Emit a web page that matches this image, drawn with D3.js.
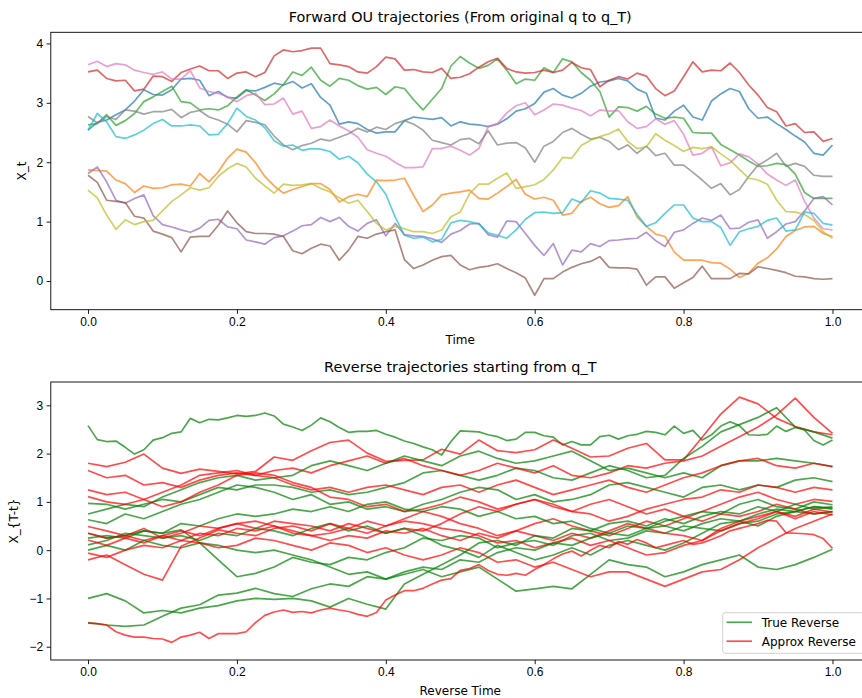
<!DOCTYPE html>
<html>
<head>
<meta charset="utf-8">
<script src="https://cdn.jsdelivr.net/npm/d3@7"></script>
<style>
  body { margin: 0; background: #fff; }
  svg { display: block; font-family: "DejaVu Sans", sans-serif; }
  .tick text { font-size: 12px; fill: #000; }
  .tick line { stroke: #000; stroke-width: 0.9; }
  .title { font-size: 14.4px; fill: #000; }
  .label { font-size: 12px; fill: #000; }
</style>
</head>
<body>
<svg id="chart"></svg>
<script>
const width = 862;
const height = 698;

// time grids the trajectories were read at
const fineSteps = [0, 0.0125, 0.025, 0.0375, 0.05, 0.0625, 0.075, 0.0875, 0.1, 0.1125, 0.125,
  0.1375, 0.15, 0.1625, 0.175, 0.1875, 0.2, 0.2125, 0.225, 0.2375, 0.25,
  0.2625, 0.275, 0.2875, 0.3, 0.3125, 0.325, 0.3375, 0.35, 0.3625, 0.375,
  0.3875, 0.4, 0.4125, 0.425, 0.4375, 0.45, 0.4625, 0.475, 0.4875, 0.5,
  0.5125, 0.525, 0.5375, 0.55, 0.5625, 0.575, 0.5875, 0.6, 0.6125, 0.625,
  0.6375, 0.65, 0.6625, 0.675, 0.6875, 0.7, 0.7125, 0.725, 0.7375, 0.75,
  0.7625, 0.775, 0.7875, 0.8, 0.8125, 0.825, 0.8375, 0.85, 0.8625, 0.875,
  0.8875, 0.9, 0.9125, 0.925, 0.9375, 0.95, 0.9625, 0.975, 0.9875, 1.0];
const coarseSteps = [0, 0.025, 0.05, 0.075, 0.1, 0.125, 0.15, 0.175, 0.2, 0.225, 0.25,
  0.275, 0.3, 0.325, 0.35, 0.375, 0.4, 0.425, 0.45, 0.475, 0.5,
  0.525, 0.55, 0.575, 0.6, 0.625, 0.65, 0.675, 0.7, 0.725, 0.75,
  0.775, 0.8, 0.825, 0.85, 0.875, 0.9, 0.925, 0.95, 0.975, 1.0];

const xTicks = [0, 0.2, 0.4, 0.6, 0.8, 1.0];
const forwardTicks = [0, 1, 2, 3, 4];
const reverseTicks = [-2, -1, 0, 1, 2, 3];

// forward OU paths (tab10 order), on fineSteps
const fwdBlue = [2.54, 2.67, 2.71, 2.80, 2.88, 3.03, 3.22, 3.14, 3.13, 3.22, 3.40, 3.41, 3.38, 3.12, 3.19, 3.09, 3.08, 3.21, 3.20, 3.26, 3.33,
  3.30, 3.36, 3.25, 3.32, 3.09, 2.96, 2.64, 2.68, 2.65, 2.55, 2.49, 2.51, 2.51, 2.70, 2.76, 2.74, 2.72, 2.75, 2.61, 2.68,
  2.64, 2.63, 2.60, 2.64, 2.73, 2.86, 2.90, 2.99, 3.18, 3.24, 3.13, 3.08, 3.16, 3.28, 3.35, 3.37, 3.41, 3.37, 3.23, 3.16,
  2.74, 2.71, 2.86, 2.96, 2.76, 2.71, 3.03, 3.15, 3.24, 3.19, 2.90, 2.74, 2.76, 2.65, 2.55, 2.44, 2.34, 2.15, 2.12, 2.29];
const fwdOrange = [1.87, 1.86, 1.85, 1.70, 1.64, 1.49, 1.60, 1.56, 1.57, 1.62, 1.63, 1.60, 1.81, 1.67, 1.84, 2.07, 2.22, 2.17, 1.99, 1.76, 1.60,
  1.48, 1.54, 1.59, 1.64, 1.64, 1.54, 1.33, 1.42, 1.46, 1.42, 1.70, 1.69, 1.70, 1.73, 1.44, 1.17, 1.28, 1.45, 1.48, 1.50,
  1.53, 1.39, 1.38, 1.48, 1.59, 1.71, 1.46, 1.38, 1.41, 1.36, 1.11, 1.14, 1.34, 1.41, 1.30, 1.24, 1.27, 1.42, 1.08, 0.92,
  0.79, 0.75, 0.49, 0.35, 0.35, 0.35, 0.31, 0.30, 0.20, 0.06, 0.13, 0.30, 0.39, 0.54, 0.75, 0.85, 0.91, 0.92, 0.80, 0.75];
const fwdGreen = [2.63, 2.65, 2.80, 2.62, 2.70, 2.82, 3.02, 3.10, 3.19, 3.28, 3.02, 3.00, 2.88, 2.90, 2.88, 2.95, 3.10, 3.22, 3.13, 3.04, 3.15,
  3.31, 3.52, 3.46, 3.60, 3.38, 3.28, 3.41, 3.38, 3.29, 3.23, 3.26, 3.14, 3.27, 3.24, 3.05, 2.88, 3.06, 3.24, 3.62, 3.78,
  3.67, 3.58, 3.63, 3.74, 3.55, 3.32, 3.40, 3.38, 3.59, 3.51, 3.74, 3.69, 3.51, 3.38, 3.19, 2.76, 2.93, 2.92, 2.86, 2.94,
  2.81, 2.74, 2.76, 2.74, 2.50, 2.49, 2.49, 2.30, 2.21, 2.12, 2.02, 1.93, 1.94, 1.98, 1.96, 1.80, 1.49, 1.39, 1.39, 1.39];
const fwdRed = [3.52, 3.55, 3.41, 3.37, 3.38, 3.20, 3.23, 3.45, 3.44, 3.36, 3.51, 3.57, 3.62, 3.54, 3.54, 3.41, 3.50, 3.52, 3.44, 3.51, 3.79,
  3.89, 3.86, 3.88, 3.92, 3.92, 3.66, 3.64, 3.61, 3.52, 3.50, 3.61, 3.77, 3.74, 3.55, 3.56, 3.52, 3.51, 3.58, 3.41, 3.43,
  3.49, 3.60, 3.69, 3.75, 3.58, 3.52, 3.50, 3.51, 3.55, 3.51, 3.55, 3.68, 3.59, 3.56, 3.27, 3.38, 3.44, 3.40, 3.50, 3.45,
  3.24, 3.12, 3.20, 3.44, 3.69, 3.52, 3.55, 3.54, 3.67, 3.51, 3.30, 3.13, 2.92, 2.85, 2.61, 2.65, 2.50, 2.51, 2.35, 2.40];
const fwdPurple = [1.81, 1.92, 1.67, 1.36, 1.31, 1.39, 1.45, 1.10, 0.95, 0.91, 0.86, 0.82, 0.89, 1.02, 1.04, 0.91, 0.88, 0.69, 0.66, 0.62, 0.73,
  0.76, 0.84, 0.93, 0.95, 1.07, 1.00, 1.07, 0.92, 0.84, 0.97, 1.03, 0.76, 0.97, 0.78, 0.76, 0.75, 0.71, 0.65, 0.79, 0.85,
  0.96, 0.97, 0.78, 0.74, 1.01, 1.00, 0.80, 0.60, 0.43, 0.63, 0.27, 0.52, 0.49, 0.63, 0.58, 0.68, 0.69, 0.71, 0.72, 0.82,
  0.68, 0.58, 0.82, 0.86, 0.97, 1.06, 1.02, 1.11, 0.88, 0.89, 0.99, 1.03, 0.72, 0.83, 0.96, 1.00, 1.18, 1.39, 1.42, 1.28];
const fwdBrown = [1.78, 1.66, 1.36, 1.34, 1.32, 1.09, 1.06, 0.84, 0.79, 0.73, 0.49, 0.74, 0.75, 0.75, 0.94, 1.18, 0.98, 0.83, 0.80, 0.80, 0.79,
  0.75, 0.51, 0.46, 0.55, 0.62, 0.59, 0.35, 0.52, 0.75, 0.72, 0.79, 0.83, 0.86, 0.36, 0.21, 0.27, 0.35, 0.41, 0.43, 0.27,
  0.19, 0.23, 0.25, 0.29, 0.21, 0.14, 0.05, -0.24, 0.04, 0.04, 0.15, 0.23, 0.29, 0.33, 0.41, 0.23, 0.22, 0.22, 0.20, -0.07,
  0.07, 0.07, -0.12, -0.03, 0.06, 0.25, 0.04, 0.04, 0.04, 0.13, 0.12, 0.24, 0.21, 0.18, 0.14, 0.08, 0.07, 0.04, 0.03, 0.04];
const fwdPink = [3.64, 3.70, 3.61, 3.66, 3.64, 3.55, 3.51, 3.48, 3.52, 3.40, 3.40, 3.54, 3.25, 3.19, 3.16, 3.10, 3.02, 3.12, 3.16, 2.97, 2.98,
  3.08, 2.81, 2.86, 2.57, 2.60, 2.71, 2.61, 2.53, 2.42, 2.21, 2.15, 2.10, 2.00, 1.91, 1.91, 1.92, 2.23, 2.23, 2.27, 2.20,
  2.12, 2.23, 2.60, 2.65, 2.83, 2.95, 3.00, 2.80, 2.88, 2.98, 2.96, 2.91, 2.87, 2.78, 2.88, 2.86, 2.87, 2.68, 2.57, 2.60,
  2.73, 2.64, 2.70, 2.47, 2.12, 2.15, 2.26, 1.94, 1.99, 2.14, 2.09, 1.97, 1.80, 1.70, 1.61, 1.70, 1.34, 1.06, 0.88, 0.86];
const fwdGray = [2.77, 2.66, 2.77, 2.72, 2.88, 2.86, 2.81, 2.85, 2.85, 2.89, 2.75, 2.84, 2.87, 2.76, 2.71, 2.64, 2.51, 2.70, 2.67, 2.63, 2.44,
  2.29, 2.21, 2.28, 2.32, 2.39, 2.36, 2.42, 2.48, 2.57, 2.51, 2.59, 2.55, 2.65, 2.70, 2.64, 2.54, 2.37, 2.33, 2.29, 2.38,
  2.40, 2.31, 2.53, 2.29, 2.32, 2.33, 2.24, 2.00, 2.27, 2.35, 2.50, 2.57, 2.47, 2.39, 2.42, 2.35, 2.21, 2.29, 2.15, 2.27,
  2.11, 2.15, 1.95, 1.95, 1.83, 1.70, 1.56, 1.64, 1.45, 1.54, 1.76, 1.95, 2.04, 2.15, 1.93, 1.98, 1.93, 1.78, 1.76, 1.76];
const fwdOlive = [1.53, 1.40, 1.11, 0.87, 1.03, 0.95, 1.00, 1.02, 1.18, 1.34, 1.45, 1.57, 1.53, 1.57, 1.76, 1.89, 1.98, 1.92, 1.73, 1.60, 1.48,
  1.63, 1.61, 1.62, 1.64, 1.56, 1.50, 1.40, 1.31, 1.36, 1.17, 0.97, 0.86, 0.92, 0.88, 0.83, 0.83, 0.80, 0.86, 1.08, 1.16,
  1.47, 1.63, 1.63, 1.73, 1.82, 1.56, 1.59, 1.62, 1.71, 1.87, 2.08, 2.07, 2.28, 2.37, 2.43, 2.48, 2.56, 2.35, 2.23, 2.26,
  2.48, 2.37, 2.28, 2.18, 2.25, 2.23, 2.26, 2.14, 2.03, 1.88, 1.73, 1.70, 1.63, 1.36, 1.17, 1.16, 1.12, 1.02, 0.83, 0.72];
const fwdCyan = [2.54, 2.82, 2.68, 2.43, 2.40, 2.46, 2.54, 2.65, 2.72, 2.61, 2.61, 2.63, 2.61, 2.46, 2.47, 2.65, 2.91, 2.77, 2.71, 2.58, 2.36,
  2.27, 2.29, 2.20, 2.23, 2.22, 2.18, 2.05, 2.10, 1.99, 1.80, 1.67, 1.46, 1.08, 0.77, 0.72, 0.74, 0.66, 0.70, 0.98, 1.02,
  1.00, 0.96, 0.81, 0.77, 0.72, 0.86, 1.04, 1.15, 1.16, 1.14, 1.15, 1.38, 1.32, 1.52, 1.48, 1.39, 1.38, 1.36, 1.12, 0.92,
  0.98, 1.14, 1.28, 1.28, 1.06, 1.00, 1.00, 0.90, 0.60, 0.83, 0.88, 0.92, 1.02, 1.06, 0.84, 0.86, 1.16, 1.14, 0.97, 0.94];

const forwardSeries = [fwdBlue, fwdOrange, fwdGreen, fwdRed, fwdPurple,
  fwdBrown, fwdPink, fwdGray, fwdOlive, fwdCyan];
const forwardColors = ["#1f77b4", "#ff7f0e", "#2ca02c", "#d62728", "#9467bd",
  "#8c564b", "#e377c2", "#7f7f7f", "#bcbd22", "#17becf"];

// reverse paths: true (green) and approximate (red)
// true1 and approx10 (the outermost paths) were read on fineSteps, the rest on coarseSteps
const true1 = [2.58, 2.29, 2.25, 2.26, 2.13, 1.99, 2.08, 2.28, 2.33, 2.42, 2.45, 2.73, 2.64, 2.71, 2.70, 2.74, 2.79, 2.77, 2.79, 2.84, 2.78,
  2.61, 2.55, 2.48, 2.59, 2.74, 2.66, 2.54, 2.44, 2.46, 2.46, 2.48, 2.40, 2.34, 2.26, 2.21, 2.14, 2.08, 1.97, 2.25, 2.47,
  2.46, 2.45, 2.39, 2.35, 2.27, 2.30, 2.44, 2.44, 2.37, 2.34, 2.18, 2.25, 2.18, 2.18, 2.35, 2.38, 2.30, 2.37, 2.40, 2.46,
  2.44, 2.39, 2.57, 2.42, 2.48, 2.28, 2.39, 2.57, 2.66, 2.58, 2.39, 2.38, 2.40, 2.57, 2.46, 2.54, 2.49, 2.27, 2.18, 2.28];
const true2 = [0.97, 0.95, 0.85, 0.95, 1.05, 1.00, 1.15, 1.30, 1.25, 1.35, 1.35,
  1.30, 1.20, 1.25, 1.15, 1.20, 1.30, 1.40, 1.60, 1.65, 1.55,
  1.45, 1.55, 1.70, 1.65, 1.50, 1.45, 1.60, 1.75, 1.65, 1.50,
  1.55, 1.90, 2.15, 2.45, 2.60, 2.75, 2.95, 2.55, 2.45, 2.32];
const true3 = [0.75, 0.85, 0.95, 0.90, 1.10, 1.25, 1.40, 1.50, 1.55, 1.45, 1.50,
  1.55, 1.75, 1.85, 1.75, 1.65, 1.80, 1.95, 1.85, 1.75, 1.95,
  2.05, 1.90, 1.80, 1.85, 1.95, 2.05, 1.85, 1.65, 1.70, 1.60,
  1.50, 1.60, 1.50, 1.75, 1.85, 1.85, 1.90, 1.85, 1.80, 1.73];
const true4 = [0.63, 0.55, 0.75, 0.65, 0.80, 0.95, 1.05, 1.20, 1.35, 1.30, 1.20,
  1.05, 1.15, 0.95, 1.00, 0.85, 0.90, 0.80, 0.95, 1.05, 1.20,
  1.30, 1.25, 1.05, 1.15, 1.00, 1.05, 1.15, 1.35, 1.40, 1.30,
  1.20, 1.10, 1.30, 1.35, 1.25, 1.35, 1.30, 1.45, 1.50, 1.42];
const true5 = [0.35, 0.25, 0.30, 0.40, 0.35, 0.42, 0.15, -0.20, -0.55, -0.48, -0.35,
  -0.15, -0.25, -0.30, -0.15, -0.20, -0.05, 0.05, 0.25, 0.20, 0.30,
  0.25, 0.05, 0.15, 0.20, 0.10, 0.30, 0.35, 0.20, 0.25, 0.40,
  0.35, 0.50, 0.45, 0.40, 0.55, 0.60, 0.75, 0.80, 0.90, 0.87];
const true6 = [0.25, 0.30, 0.25, 0.40, 0.35, 0.55, 0.50, 0.65, 0.75, 0.70, 0.75,
  0.85, 0.80, 0.90, 0.80, 0.95, 1.00, 0.85, 0.80, 0.90, 0.85,
  0.70, 0.80, 0.65, 0.70, 0.55, 0.60, 0.45, 0.35, 0.50, 0.45,
  0.60, 0.70, 0.80, 0.75, 0.95, 1.05, 0.90, 0.85, 1.00, 0.94];
const true7 = [0.11, 0.20, 0.35, 0.30, 0.25, 0.30, 0.20, 0.35, 0.30, 0.45, 0.40,
  0.30, 0.45, 0.55, 0.40, 0.50, 0.35, 0.45, 0.30, 0.10, 0.00,
  -0.15, 0.10, -0.05, -0.20, -0.10, 0.05, -0.10, 0.10, 0.20, 0.10,
  0.00, 0.15, 0.35, 0.55, 0.60, 0.50, 0.70, 0.80, 0.75, 0.80];
const true8 = [0.00, 0.10, 0.00, 0.20, 0.10, 0.05, 0.15, 0.10, 0.00, -0.05, 0.00,
  -0.10, -0.20, -0.35, -0.50, -0.45, -0.60, -0.50, -0.40, -0.55, -0.45,
  -0.35, -0.60, -0.85, -0.80, -0.75, -0.80, -0.50, -0.20, -0.30, -0.35,
  -0.55, -0.45, -0.30, -0.20, -0.10, -0.35, -0.40, -0.30, -0.15, 0.02];
const true9 = [-1.00, -0.90, -1.05, -1.30, -1.25, -1.30, -1.20, -1.15, -1.05, -1.00, -1.02,
  -1.00, -1.05, -1.18, -1.00, -1.12, -1.22, -0.70, -0.50, -0.30, -0.10,
  0.15, 0.20, 0.10, 0.30, 0.25, 0.45, 0.40, 0.55, 0.60, 0.50,
  0.65, 0.55, 0.70, 0.80, 0.75, 0.90, 0.80, 0.95, 0.85, 0.90];
const true10 = [-1.50, -1.55, -1.58, -1.55, -1.37, -1.20, -1.13, -0.93, -0.89, -0.79, -0.90,
  -0.96, -0.80, -0.70, -0.75, -0.55, -0.60, -0.45, -0.35, -0.40, -0.20,
  -0.25, -0.05, 0.05, 0.00, 0.15, 0.10, 0.25, 0.35, 0.30, 0.45,
  0.50, 0.40, 0.55, 0.65, 0.60, 0.75, 0.85, 0.80, 0.90, 0.85];

const approx1 = [1.80, 1.73, 1.82, 1.99, 1.70, 1.59, 1.68, 1.63, 1.58, 1.63, 1.93,
  1.86, 2.06, 2.23, 2.28, 2.01, 1.84, 1.86, 1.87, 2.09, 1.99,
  2.28, 2.06, 2.02, 2.08, 2.28, 2.11, 1.93, 1.95, 2.11, 2.21,
  1.87, 1.87, 2.34, 2.82, 3.17, 3.03, 2.73, 2.56, 2.45, 2.39];
const approx2 = [1.65, 1.50, 1.55, 1.35, 1.40, 1.30, 1.45, 1.55, 1.60, 1.55, 1.65,
  1.70, 1.60, 1.75, 1.85, 1.95, 1.80, 1.90, 1.75, 1.65, 1.55,
  1.65, 1.80, 1.70, 1.60, 1.75, 1.55, 1.50, 1.60, 1.75, 1.70,
  1.80, 1.85, 1.95, 2.15, 2.35, 2.55, 2.80, 3.15, 2.75, 2.42];
const approx3 = [1.25, 1.15, 1.20, 1.05, 1.20, 1.35, 1.55, 1.60, 1.65, 1.55, 1.50,
  1.35, 1.25, 1.30, 1.20, 1.30, 1.35, 1.25, 1.15, 1.30, 1.35,
  1.20, 1.35, 1.45, 1.30, 1.15, 1.25, 1.35, 1.45, 1.30, 1.20,
  1.35, 1.50, 1.60, 1.75, 1.85, 1.90, 1.75, 1.70, 1.80, 1.73];
const approx4 = [1.11, 1.00, 0.95, 1.05, 0.90, 1.00, 1.20, 1.35, 1.55, 1.60, 1.55,
  1.40, 1.30, 1.10, 1.05, 0.90, 0.95, 0.80, 0.85, 0.95, 1.10,
  1.00, 0.85, 0.95, 1.05, 0.95, 0.80, 0.75, 0.60, 0.70, 0.85,
  0.95, 1.05, 1.10, 1.25, 1.20, 1.35, 1.30, 1.20, 1.30, 1.25];
const approx5 = [0.49, 0.40, 0.30, 0.45, 0.25, 0.35, 0.50, 0.45, 0.55, 0.60, 0.50,
  0.40, 0.30, 0.35, 0.45, 0.60, 0.50, 0.65, 0.80, 0.70, 0.55,
  0.45, 0.30, 0.40, 0.55, 0.65, 0.50, 0.40, 0.30, 0.45, 0.60,
  0.50, 0.65, 0.80, 0.95, 1.10, 1.20, 1.05, 0.95, 1.05, 1.01];
const approx6 = [0.35, 0.25, 0.30, 0.20, 0.30, 0.40, 0.30, 0.45, 0.55, 0.45, 0.60,
  0.55, 0.50, 0.40, 0.55, 0.45, 0.35, 0.45, 0.40, 0.55, 0.75,
  0.90, 0.80, 0.95, 1.05, 0.90, 0.80, 0.95, 1.05, 0.90, 0.75,
  0.85, 0.70, 0.60, 0.75, 0.70, 0.80, 0.95, 0.85, 0.75, 0.80];
const approx7 = [0.21, 0.10, 0.25, 0.15, 0.30, 0.20, 0.35, 0.30, 0.45, 0.40, 0.50,
  0.35, 0.30, 0.20, 0.30, 0.25, 0.40, 0.35, 0.45, 0.30, 0.20,
  0.35, 0.25, 0.40, 0.30, 0.20, 0.35, 0.25, 0.40, 0.55, 0.45,
  0.35, 0.30, 0.20, 0.45, 0.60, 0.70, 0.80, 0.65, 0.80, 0.73];
const approx8 = [-0.06, -0.15, 0.00, 0.10, 0.05, 0.20, 0.15, 0.05, 0.10, 0.25, 0.20,
  0.10, 0.00, 0.15, 0.10, -0.05, 0.05, -0.10, -0.20, -0.10, 0.05,
  -0.05, -0.25, -0.20, -0.35, -0.25, -0.40, -0.55, -0.45, -0.45, -0.60,
  -0.75, -0.60, -0.45, -0.40, -0.20, 0.05, 0.25, 0.45, 0.60, 0.75];
const approx9 = [-0.20, -0.10, -0.30, -0.50, -0.62, 0.08, 0.25, 0.42, 0.35, 0.30, 0.45,
  0.50, 0.40, 0.55, 0.45, 0.35, 0.50, 0.60, 0.55, 0.45, 0.40,
  0.30, 0.15, 0.20, 0.05, 0.15, 0.25, 0.10, 0.20, 0.05, -0.10,
  -0.05, 0.10, 0.20, 0.40, 0.55, 0.65, 0.80, 0.70, 0.85, 0.79];
const approx10 = [-1.51, -1.52, -1.55, -1.69, -1.76, -1.80, -1.80, -1.83, -1.84, -1.91, -1.80, -1.76, -1.70, -1.83, -1.73, -1.73, -1.73, -1.69, -1.50, -1.35, -1.28,
  -1.24, -1.29, -1.27, -1.30, -1.24, -1.20, -1.24, -1.27, -1.33, -1.37, -1.29, -1.03, -0.93, -0.84, -0.84, -0.79, -0.70, -0.62, -0.59, -0.42,
  -0.38, -0.30, -0.42, -0.50, -0.52, -0.48, -0.52, -0.40, -0.30, -0.18, -0.08, -0.02, -0.12, 0.00, 0.10, 0.05, 0.18, 0.12, 0.22, 0.15,
  0.05, 0.10, 0.15, 0.20, 0.12, 0.15, 0.22, 0.30, 0.40, 0.45, 0.50, 0.55, 0.62, 0.60, 0.36, 0.35, 0.34, 0.32, 0.24, 0.04];

const trueSeries = [true1, true2, true3, true4, true5, true6, true7, true8, true9, true10];
const approxSeries = [approx1, approx2, approx3, approx4, approx5,
  approx6, approx7, approx8, approx9, approx10];

const svg = d3.select("#chart").attr("width", width).attr("height", height);

// pick the grid a path was read on
const stepsFor = values => (values.length === fineSteps.length ? fineSteps : coarseSteps);

// one subplot: scales, clipped lines, box, ticks, labels
function drawPanel(opts) {
  const x = d3.scaleLinear().domain([-0.05, 1.05]).range([opts.left, opts.right]);
  const y = d3.scaleLinear().domain(opts.yDomain).range([opts.bottom, opts.top]);

  svg.append("clipPath")
    .attr("id", opts.id + "-clip")
    .append("rect")
    .attr("x", opts.left)
    .attr("y", opts.top)
    .attr("width", opts.right - opts.left)
    .attr("height", opts.bottom - opts.top);

  const g = svg.append("g").attr("clip-path", `url(#${opts.id}-clip)`);
  g.selectAll("path")
    .data(opts.lines)
    .enter()
    .append("path")
    .attr("d", d => {
      const steps = stepsFor(d.values);
      return d3.line().x((v, i) => x(steps[i])).y(v => y(v))(d.values);
    })
    .attr("fill", "none")
    .attr("stroke", d => d.color)
    .attr("stroke-opacity", 0.7)
    .attr("stroke-width", 1.7)
    .attr("stroke-linejoin", "round");

  svg.append("g")
    .attr("transform", `translate(0, ${opts.bottom})`)
    .call(d3.axisBottom(x).tickValues(xTicks).tickFormat(d3.format(".1f"))
      .tickSize(4.2).tickPadding(3.5).tickSizeOuter(0))
    .call(a => a.select(".domain").remove());

  svg.append("g")
    .attr("transform", `translate(${opts.left}, 0)`)
    .call(d3.axisLeft(y).tickValues(opts.yTicks).tickFormat(d3.format("d"))
      .tickSize(4.2).tickPadding(3.5).tickSizeOuter(0))
    .call(a => a.select(".domain").remove());

  svg.selectAll(".tick text").attr("font-family", null);

  svg.append("rect")
    .attr("x", opts.left)
    .attr("y", opts.top)
    .attr("width", opts.right - opts.left)
    .attr("height", opts.bottom - opts.top)
    .attr("fill", "none")
    .attr("stroke", "#000")
    .attr("stroke-width", 0.9);

  svg.append("text")
    .attr("class", "title")
    .attr("x", (opts.left + opts.right) / 2)
    .attr("y", opts.top - 10.5)
    .attr("text-anchor", "middle")
    .text(opts.title);

  svg.append("text")
    .attr("class", "label")
    .attr("x", (opts.left + opts.right) / 2)
    .attr("y", opts.bottom + 34.5)
    .attr("text-anchor", "middle")
    .text(opts.xLabel);

  svg.append("text")
    .attr("class", "label")
    .attr("transform", `translate(${opts.yLabelX}, ${(opts.top + opts.bottom) / 2}) rotate(-90)`)
    .attr("text-anchor", "middle")
    .text(opts.yLabel);
}

drawPanel({
  id: "forward",
  left: 50.8, right: 869.7, top: 32.3, bottom: 309.7,
  yDomain: [-0.483, 4.187],
  yTicks: forwardTicks,
  lines: forwardSeries.map((values, i) => ({ values, color: forwardColors[i] })),
  title: "Forward OU trajectories (From original q to q_T)",
  xLabel: "Time",
  yLabel: "X_t",
  yLabelX: 26
});

const reverseLines = [];
trueSeries.forEach((values, i) => {
  reverseLines.push({ values, color: "#008000" });
  reverseLines.push({ values: approxSeries[i], color: "#ff0000" });
});

drawPanel({
  id: "reverse",
  left: 50.8, right: 869.7, top: 382, bottom: 660,
  yDomain: [-2.275, 3.483],
  yTicks: reverseTicks,
  lines: reverseLines,
  title: "Reverse trajectories starting from q_T",
  xLabel: "Reverse Time",
  yLabel: "X_{T-t}",
  yLabelX: 17.5
});

// legend, lower right of the reverse panel
const legend = svg.append("g").attr("id", "legend");

legend.append("rect")
  .attr("x", 722.7)
  .attr("y", 612.7)
  .attr("width", 141)
  .attr("height", 40.6)
  .attr("rx", 2.5)
  .attr("fill", "#fff")
  .attr("fill-opacity", 0.8)
  .attr("stroke", "#cccccc")
  .attr("stroke-width", 0.9);

const legendItems = [
  { name: "True Reverse", color: "#008000", y: 622.3 },
  { name: "Approx Reverse", color: "#ff0000", y: 641.2 }
];

legend.selectAll(".legend-line")
  .data(legendItems)
  .enter()
  .append("line")
  .attr("class", "legend-line")
  .attr("x1", 726.5)
  .attr("x2", 752)
  .attr("y1", d => d.y)
  .attr("y2", d => d.y)
  .attr("stroke", d => d.color)
  .attr("stroke-opacity", 0.7)
  .attr("stroke-width", 1.7);

legend.selectAll(".legend-text")
  .data(legendItems)
  .enter()
  .append("text")
  .attr("class", "label")
  .attr("x", 761.7)
  .attr("y", d => d.y + 4.3)
  .text(d => d.name);
</script>
</body>
</html>
